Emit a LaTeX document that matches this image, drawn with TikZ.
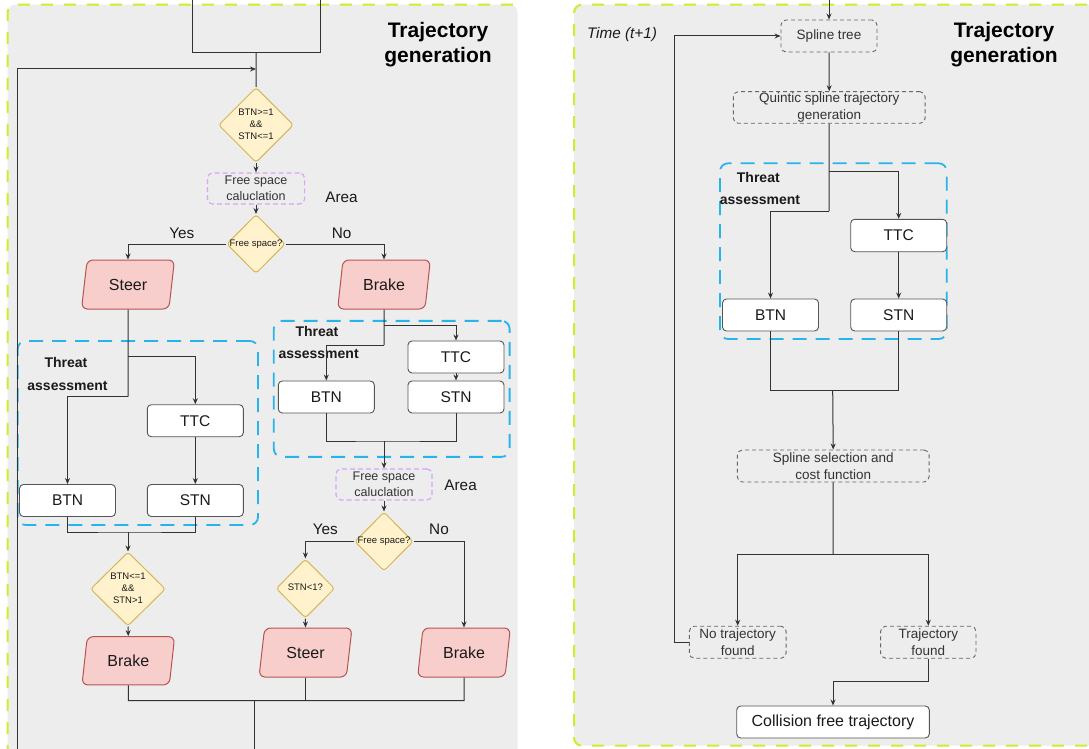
\documentclass[tikz,border=0pt]{standalone}
\usepackage{fontspec}
\setmainfont{Liberation Sans}
\usetikzlibrary{shapes.geometric,arrows.meta}
\definecolor{panelbg}{HTML}{EDEDED}
\definecolor{lime}{RGB}{205,238,45}
\definecolor{tblue}{RGB}{40,180,235}
\definecolor{tpurple}{RGB}{215,165,245}
\definecolor{linec}{HTML}{333333}
\definecolor{txt}{HTML}{1A1A1A}
\definecolor{gtxt}{HTML}{333333}
\definecolor{dfill}{HTML}{FFF2CC}
\definecolor{ddraw}{HTML}{D6B656}
\definecolor{pfill}{HTML}{F8CECC}
\definecolor{pdraw}{HTML}{B85450}
\definecolor{bdraw}{HTML}{555555}
\definecolor{gdraw}{HTML}{666666}
\newcommand\szBox{\fontsize{15.5}{18}\selectfont}
\newcommand\szBig{\fontsize{16}{19}\selectfont}
\newcommand\szGray{\fontsize{13.5}{16.7}\selectfont}
\newcommand\szPurp{\fontsize{12.5}{15.7}\selectfont}
\newcommand\szDia{\fontsize{9.5}{11.7}\selectfont}
\newcommand\szLab{\fontsize{15.3}{18}\selectfont}
\newcommand\szThr{\fontsize{14}{16}\selectfont\bfseries}
\newcommand\szTitle{\fontsize{21}{25.6}\selectfont\bfseries}
\newcommand\dtext[1]{\makebox[0pt]{\begin{tabular}{@{}c@{}}#1\end{tabular}}}
\tikzset{
  conn/.style={draw=linec, line width=1pt},
  arr/.style={conn, -{Stealth[length=6pt,width=5pt]}},
  wbox/.style={draw=bdraw, fill=white, rounded corners=4, line width=0.9pt, minimum width=96, minimum height=32, inner sep=0, font=\szBox, text=txt},
  gbox/.style={draw=gdraw, dash pattern=on 4pt off 3pt, rounded corners=5, line width=0.9pt, minimum width=96, minimum height=32, inner sep=0, font=\szGray, text=gtxt, align=center},
  pbox/.style={draw=tpurple, dash pattern=on 5pt off 3pt, rounded corners=5, line width=1.2pt, minimum width=96, minimum height=31, inner sep=0, font=\szPurp, text=gtxt, align=center},
  dia/.style={diamond, aspect=1, fill=dfill, draw=ddraw, line width=1pt, inner sep=0, rounded corners=3, text=txt, font=\szDia},
  para/.style={trapezium, trapezium left angle=77, trapezium right angle=103, trapezium stretches=true, minimum width=93, minimum height=49, fill=pfill, draw=pdraw, line width=1pt, rounded corners=6, inner sep=0, font=\szBig, text=txt},
  tbox/.style={draw=tblue, dash pattern=on 14pt off 9pt, line width=1.8pt, rounded corners=8, inner sep=0},
  greendash/.style={draw=lime, dash pattern=on 12pt off 11pt, line width=2pt},
  lab/.style={font=\szLab, text=txt, inner sep=0},
  thr/.style={font=\szThr, text=txt, inner sep=0},
  ttl/.style={font=\szTitle, text=black, align=center, inner sep=0}
}
\begin{document}
\begin{tikzpicture}[x=1pt,y=-1pt]
\useasboundingbox (0,0) rectangle (1089,749);
\clip (0,0) rectangle (1089,749);
\fill[white] (0,0) rectangle (1089,749);
% ---------------- panels
\fill[panelbg, rounded corners=8] (7.6,4.7) rectangle (517.7,780);
\draw[greendash, rounded corners=8] (7.6,780) -- (7.6,4.7) -- (517.7,4.7);
\fill[panelbg, rounded corners=8] (574,4.7) rectangle (1110,745.7);
\draw[greendash, rounded corners=8] (1110,4.7) -- (574,4.7) -- (574,745.7) -- (1110,745.7);
\node[ttl] (title1) at (438,44.5) {Trajectory\\generation};
\node[ttl] (title2) at (1004,44.5) {Trajectory\\generation};
% ---------------- threat boxes
\node[tbox, minimum width=240.3, minimum height=184] (taL) at (137.85,433) {};
\node[tbox, minimum width=235.8, minimum height=136] (taR) at (391.7,388.85) {};
\node[tbox, minimum width=226.7, minimum height=175.7] (taP) at (833.35,251.15) {};
\node[thr] (thL1) at (66,362.7) {Threat};
\node[thr] (thL2) at (67.5,385.7) {assessment};
\node[thr] (thR1) at (317,331) {Threat};
\node[thr] (thR2) at (318.6,354) {assessment};
\node[thr] (thP1) at (758.3,177.3) {Threat};
\node[thr] (thP2) at (760,200) {assessment};
% ---------------- left panel nodes
\node[draw=linec, line width=1pt, minimum width=127.7, minimum height=90, inner sep=0] (topbox) at (256.15,7.3) {};
\node[dia, minimum width=75, minimum height=75] (d1) at (256,125) {\dtext{BTN>=1\\\&\&\\STN<=1}};
\node[pbox, minimum width=97.2] (fs1) at (256,188.5) {Free space\\caluclation};
\node[lab] (area1) at (341.5,197) {Area};
\node[dia, minimum width=58.5, minimum height=59] (d2) at (256,244) {\dtext{Free space?}};
\node[lab] (yes1) at (181.8,233) {Yes};
\node[lab] (no1) at (341.6,233) {No};
\node[para] (s1) at (128,284.5) {Steer};
\node[para] (b1) at (384,284.5) {Brake};
\node[wbox] (ttcL) at (195.3,420.7) {TTC};
\node[wbox] (btnL) at (67.5,500.5) {BTN};
\node[wbox] (stnL) at (195.3,500.5) {STN};
\node[dia, minimum width=75, minimum height=74] (d3) at (128,589) {\dtext{BTN<=1\\\&\&\\STN>1}};
\node[para, minimum height=48.3] (brL) at (128.3,660.8) {Brake};
\node[wbox] (ttcR) at (456,357) {TTC};
\node[wbox] (btnR) at (326.3,397) {BTN};
\node[wbox] (stnR) at (456,397) {STN};
\node[pbox] (fs2) at (384,484.5) {Free space\\caluclation};
\node[lab] (area2) at (460.6,485) {Area};
\node[dia, minimum width=58.5, minimum height=59] (d4) at (384,541.5) {\dtext{Free space?}};
\node[lab] (yes2) at (325.4,529) {Yes};
\node[lab] (no2) at (439,529) {No};
\node[dia, minimum width=58.5, minimum height=59] (d5) at (305.4,588.5) {\dtext{STN<1?}};
\node[para] (stL) at (305.5,652.5) {Steer};
\node[para] (brR) at (464,652.5) {Brake};
% ---------------- left panel coordinates
\coordinate (fbB) at (17.2,780);
\coordinate (fbT) at (256,69);
\coordinate (sj1) at (128,356.7);
\coordinate (sj2) at (128,396.7);
\coordinate (jL) at (128,532);
\coordinate (bj1) at (384,325);
\coordinate (bj2) at (384,345);
\coordinate (jR) at (384,441);
\coordinate (bj) at (254.3,700.7);
\coordinate (bjR) at (464,700.7);
\coordinate (bjB) at (254.3,780);
% ---------------- left panel connectors
\draw[conn] (topbox.south) -- (d1.north);
\draw[arr] (fbB) |- (fbT);
\draw[arr] (d1.south) -- (fs1.north);
\draw[arr] (fs1.south) -- (d2.north);
\draw[arr] (d2.west) -| (s1.north);
\draw[arr] (d2.east) -| (b1.north);
\draw[conn] (s1.south) -- (sj2);
\draw[arr] (sj1) -| (ttcL.north);
\draw[arr] (sj2) -| (btnL.north);
\draw[arr] (ttcL.south) -- (stnL.north);
\draw[conn] (btnL.south) |- (jL) -| (stnL.south);
\draw[arr] (jL) -- (d3.north);
\draw[arr] (d3.south) -- (brL.north);
\draw[conn] (b1.south) -- (bj2);
\draw[arr] (bj1) -| (ttcR.north);
\draw[arr] (bj2) -| (btnR.north);
\draw[arr] (ttcR.south) -- (stnR.north);
\draw[conn] (btnR.south) |- (jR) -| (stnR.south);
\draw[arr] (jR) -- (fs2.north);
\draw[arr] (fs2.south) -- (d4.north);
\draw[arr] (d4.west) -| (d5.north);
\draw[arr] (d4.east) -| (brR.north);
\draw[arr] (d5.south) -- (stL.north);
\draw[conn] (brL.south) |- (bjR) -- (brR.south);
\draw[conn] (stL.south) -- (stL.south |- bj);
\draw[conn] (bj) -- (bjB);
% ---------------- right panel nodes
\node[lab, font=\szLab\itshape] (time) at (622,35) {Time (t+1)};
\node[gbox] (st) at (829,36) {Spline tree};
\node[gbox, minimum width=191.7, minimum height=31.6] (qs) at (829.2,107.5) {Quintic spline trajectory\\generation};
\node[wbox, minimum height=32.4] (ttcP) at (898.7,235.5) {TTC};
\node[wbox] (btnP) at (770.5,315) {BTN};
\node[wbox] (stnP) at (898.7,315) {STN};
\node[gbox, minimum width=191.7] (ss) at (833.2,466) {Spline selection and\\cost function};
\node[gbox, minimum width=96.7] (ntf) at (737.7,642.2) {No trajectory\\found};
\node[gbox, minimum width=95.3] (tf) at (928.3,642.2) {Trajectory\\found};
\node[wbox, minimum width=192.6, font=\szBig] (cf) at (833,722) {Collision free trajectory};
% ---------------- right panel coordinates
\coordinate (inR) at (829,-5);
\coordinate (qj1) at (829,171);
\coordinate (qj2) at (829,211);
\coordinate (pj) at (832.7,390.7);
\coordinate (sj) at (833,554);
\coordinate (fb1) at (674,642.2);
\coordinate (cj) at (833,681.7);
% ---------------- right panel connectors
\draw[arr] (inR) -- (st.north);
\draw[arr] (st.south) -- (qs.north);
\draw[conn] (qs.south) -- (qj2);
\draw[arr] (qj1) -| (ttcP.north);
\draw[arr] (qj2) -| (btnP.north);
\draw[arr] (ttcP.south) -- (stnP.north);
\draw[conn] (btnP.south) |- (pj) -| (stnP.south);
\draw[arr] (pj) -- (ss.north);
\draw[conn] (ss.south) -- (sj);
\draw[arr] (sj) -| (ntf.north);
\draw[arr] (sj) -| (tf.north);
\draw[arr] (ntf.west) -- (fb1) |- (st.west);
\draw[arr] (tf.south) |- (cj) -- (cf.north);
\end{tikzpicture}
\end{document}
